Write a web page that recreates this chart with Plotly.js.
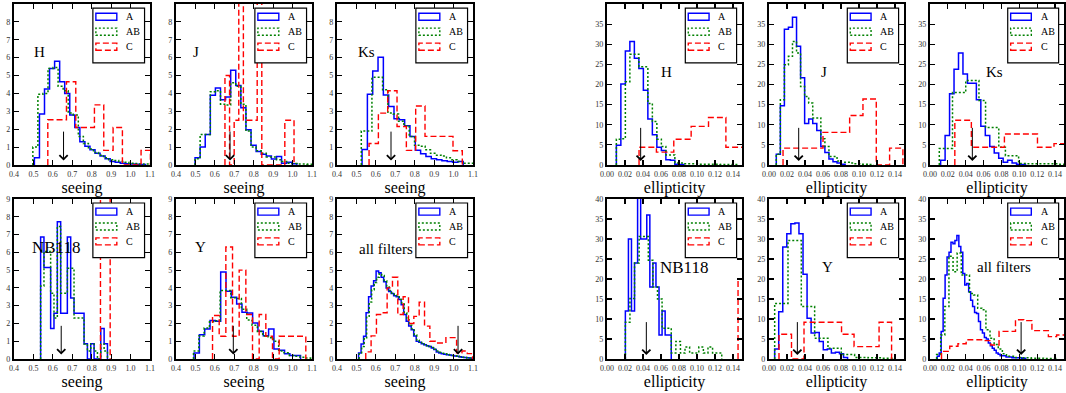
<!DOCTYPE html>
<html><head><meta charset="utf-8">
<script src="https://cdn.plot.ly/plotly-3.0.1.min.js"></script>
<style>html,body{margin:0;padding:0;background:#fff}#chart{width:1066px;height:393px}</style>
</head><body><div id="chart"></div>
<script>
// ---------- categories / labels ----------
const panelNames = ['H', 'J', 'Ks', 'NB118', 'Y', 'all filters'];
const seriesNames = ['A', 'AB', 'C'];
const seeingTicks = [0.4, 0.5, 0.6, 0.7, 0.8, 0.9, 1.0, 1.1];
const ellipTicks = [0.00, 0.02, 0.04, 0.06, 0.08, 0.10, 0.12, 0.14];
const seeingMedians = [0.655, 0.678, 0.678, 0.643, 0.695, 1.023];
const ellipMedians = [0.0374, 0.0330, 0.0474, 0.0437, 0.0315, 0.102];

// ---------- seeing histograms: [bin start, bin width] and heights ----------
const seeH_A_bins = [0.505, 0.026];
const seeH_A = [0.4, 2.85, 4.25, 5.4, 5.8, 4.65, 4.0, 2.8, 2.1, 1.3, 1.05, 0.85, 0.65, 0.5, 0.35, 0.2, 0.15, 0.1, 0.07, 0.05, 0.04, 0.03];
const seeH_AB_bins = [0.497, 0.026];
const seeH_AB = [1.0, 3.95, 4.0, 5.4, 5.45, 4.4, 4.15, 2.9, 2.8, 1.6, 1.2, 0.9, 0.7, 0.55, 0.4, 0.3, 0.25, 0.2, 0.15, 0.1, 0.08, 0.06, 0.05, 0.04];
const seeH_C_bins = [0.574, 0.048];
const seeH_C = [2.53, 2.53, 4.65, 2.1, 2.1, 3.36, 0.82, 2.1, 0, 0, 0.82];

const seeJ_A_bins = [0.498, 0.0262];
const seeJ_A = [0.4, 1.0, 1.7, 3.9, 4.3, 3.65, 3.8, 5.3, 4.45, 3.2, 1.97, 1.1, 0.76, 0.6, 0.5, 0.33, 0.48, 0.1, 0.15, 0.07];
const seeJ_AB_bins = [0.498, 0.0262];
const seeJ_AB = [0.35, 1.7, 1.7, 4.1, 4.15, 3.4, 3.35, 4.6, 4.4, 3.4, 1.9, 1.0, 0.8, 0.65, 0.45, 0.45, 0.3, 0.2, 0.1, 0.08, 0.05, 0.05, 0.04];
const seeJ_C_bins = [0.652, 0.0237];
const seeJ_C = [5.0, 0, 2.5, 12, 2.5, 2.5, 2.5, 12, 0, 0, 0, 0, 0, 2.5, 2.5];

const seeKs_A_bins = [0.529, 0.0274];
const seeKs_A = [0.87, 3.96, 5.26, 6.02, 3.92, 3.27, 2.58, 2.53, 2.2, 1.6, 0.82, 0.63, 0.48, 0.35, 0.3, 0.24, 0.19, 0.15, 0.2];
const seeKs_AB_bins = [0.525, 0.0274];
const seeKs_AB = [1.9, 1.9, 4.9, 4.9, 4.2, 2.9, 2.85, 2.45, 2.2, 1.6, 1.1, 1.05, 0.85, 0.65, 0.55, 0.5, 0.4, 0.3, 0.2, 0.1, 0.1];
const seeKs_C_bins = [0.565, 0.048];
const seeKs_C = [1.2, 2.9, 4.15, 2.15, 0.82, 3.3, 1.6, 1.6, 1.6, 0.8];

const seeNB_A_bins = [0.537, 0.0172];
const seeNB_A = [6.86, 5.15, 5.15, 1.72, 2.57, 7.72, 2.57, 2.57, 6.86, 3.43, 2.57, 2.57, 2.57, 0.86, 0, 0.86, 0, 0, 1.72, 0.86];
const seeNB_AB_bins = [0.537, 0.0172];
const seeNB_AB = [4.1, 6.05, 6.05, 3.7, 2.3, 7.45, 3.7, 3.7, 5.1, 5.1, 2.3, 2.3, 2.3, 0.85, 0.45, 0.85, 0.45, 0, 0.85, 0.45];
const seeNB_C_bins = [0.845, 0.05];
const seeNB_C = [20];

const seeY_A_bins = [0.493, 0.0274];
const seeY_A = [0.34, 1.37, 1.69, 2.16, 2.12, 4.9, 3.81, 3.47, 3.1, 2.63, 2.59, 2.03, 1.56, 1.31, 1.69, 0.56, 0.49, 0.3, 0.2, 0.2];
const seeY_AB_bins = [0.49, 0.0274];
const seeY_AB = [0.45, 1.3, 1.75, 2.1, 2.15, 3.85, 3.85, 3.45, 3.4, 2.8, 2.2, 1.9, 1.55, 1.3, 1.2, 1.0, 0.45, 0.35, 0.2, 0.15, 0.1, 0.05];
const seeY_C_bins = [0.588, 0.0343];
const seeY_C = [2.45, 1.28, 6.3, 1.28, 5.0, 2.5, 0, 2.5, 1.28, 0, 1.28, 1.28, 1.28, 1.28];

const seeAll_A_bins = [0.511, 0.0129];
const seeAll_A = [0.34, 0.84, 1.28, 2.6, 3.5, 4.1, 4.4, 4.95, 4.85, 4.6, 4.35, 4.0, 3.8, 3.68, 3.56, 3.5, 3.35, 3.05, 2.5, 2.12, 1.85, 1.65, 1.3, 1.0, 0.94, 0.86, 0.8, 0.75, 0.7, 0.62, 0.53, 0.4, 0.34, 0.3, 0.27, 0.24, 0.22, 0.19, 0.17, 0.15, 0.12, 0.1, 0.08, 0.07, 0.05];
const seeAll_AB_bins = [0.514, 0.0129];
const seeAll_AB = [0.3, 0.7, 1.2, 2.4, 3.2, 3.9, 4.3, 4.6, 4.8, 4.7, 4.4, 4.1, 3.85, 3.7, 3.6, 3.5, 3.35, 3.1, 2.6, 2.2, 1.9, 1.7, 1.35, 1.05, 0.98, 0.9, 0.82, 0.75, 0.7, 0.65, 0.55, 0.45, 0.38, 0.33, 0.3, 0.26, 0.23, 0.2, 0.18, 0.15, 0.12, 0.1, 0.08, 0.06, 0.05];
const seeAll_C_bins = [0.548, 0.0275];
const seeAll_C = [0.4, 1.3, 2.5, 2.6, 4.0, 4.6, 2.5, 3.5, 2.0, 2.4, 3.2, 1.85, 1.0, 0.9, 0.9, 1.2, 1.2, 0.35, 0.45, 0.3];

// ---------- ellipticity histograms ----------
const ellH_A_bins = [0.0104, 0.005];
const ellH_A = [4.9, 20.1, 28.3, 30.7, 26.5, 24.0, 18.6, 11.4, 7.5, 4.4, 3.6, 1.3, 1.2, 0.2, 0.1];
const ellH_AB_bins = [0.0104, 0.005];
const ellH_AB = [6.4, 6.5, 20.7, 27.5, 27.5, 24.4, 24.4, 15.3, 10.8, 6.4, 4.6, 2.5, 2.5, 0.5, 0.5, 0.3, 0.3, 0.3, 0.2, 0.2, 0.2, 0.2, 0.2, 0.1, 0.1, 0.1, 0.1];
const ellH_C_bins = [0.0356, 0.0193];
const ellH_C = [4.4, 3.2, 6.4, 9.6, 11.8, 4.4];

const ellJ_A_bins = [0.0081, 0.0045];
const ellJ_A = [2.7, 14.7, 33.7, 34.2, 36.7, 29.5, 21.7, 10.3, 11.4, 10.3, 8.6, 4.6, 3.1, 1.5, 0.8, 0.5, 0.2];
const ellJ_AB_bins = [0.0081, 0.0045];
const ellJ_AB = [2.7, 16.2, 24.9, 27.0, 30.7, 27.8, 19.5, 17.0, 15.4, 11.7, 11.7, 6.5, 4.6, 2.1, 2.1, 1.0, 0.7, 0.7, 0.5, 0.3, 0.3, 0.2, 0.2, 0.1];
const ellJ_C_bins = [0.0156, 0.0148];
const ellJ_C = [4.2, 4.2, 4.2, 8.1, 8.1, 12.3, 16.4, 0, 4.2];

const ellKs_A_bins = [0.0119, 0.005];
const ellKs_A = [1.2, 7.3, 17.7, 23.8, 27.8, 22.6, 20.3, 20.3, 16.2, 9.6, 7.3, 4.6, 3.0, 1.7, 0.7, 1.2, 0.5, 0.2, 0.1];
const ellKs_AB_bins = [0.0104, 0.0074];
const ellKs_AB = [4.1, 4.1, 18.0, 18.0, 21.0, 21.0, 16.0, 9.3, 9.3, 4.4, 2.3, 2.3, 0.4, 0.3, 0.3, 0.3, 0.3, 0.3, 0.2];
const ellKs_C_bins = [0.0278, 0.0185];
const ellKs_C = [11.1, 4.4, 4.4, 7.7, 7.7, 4.4, 5.3];

const ellNB_A_bins = [0.0204, 0.0034];
const ellNB_A = [12, 30, 12, 24, 42, 30, 30, 36, 18, 24, 18, 6, 12, 6, 6];
const ellNB_AB_bins = [0.0204, 0.0051];
const ellNB_AB = [9.2, 15.1, 24, 30.6, 30.6, 24.7, 18, 15, 7.7, 7.7, 1.5, 4.4, 1.5, 3.0, 1.5, 1.5, 3.0, 1.5, 3.0, 1.5, 1.5];
const ellNB_C_bins = [0.1456, 0.01];
const ellNB_C = [20];

const ellY_A_bins = [0.0063, 0.0045];
const ellY_A = [2.5, 11.8, 28.0, 31.3, 33.8, 34.0, 31.3, 21.2, 10.2, 6.5, 6.6, 4.4, 2.3, 2.5, 1.5, 1.7, 1.3, 0.4];
const ellY_AB_bins = [0.0063, 0.0148];
const ellY_AB = [13.9, 29.6, 13.1, 5.2, 2.7, 1.1, 0.4, 0.3, 0.2];
const ellY_C_bins = [0.0111, 0.0139];
const ellY_C = [6.2, 0, 9.2, 9.2, 9.2, 6.2, 3.1, 3.1, 9.2];

const ellAll_A_bins = [0.0081, 0.0022];
const ellAll_A = [0.7, 1.5, 6.9, 15.2, 21, 25.5, 26.7, 29.2, 28.8, 29.6, 30.9, 28.1, 26.7, 21.4, 18.5, 18.9, 16.8, 14.7, 13.1, 11.6, 11.4, 9.4, 7.3, 6.5, 5.4, 5.0, 4.0, 3.3, 2.7, 2.2, 1.5, 1.2, 0.8, 0.8, 0.8, 0.5, 0.5, 0.5, 0.3, 0.3, 0.3, 0.3, 0.3, 0.2, 0.2];
const ellAll_AB_bins = [0.0074, 0.0046];
const ellAll_AB = [1.1, 6.0, 13.1, 25.7, 21.8, 26.5, 21.0, 21.0, 16.4, 16.0, 12.7, 12.3, 7.3, 5.2, 3.6, 2.5, 1.3, 0.7, 0.7, 0.4, 0.4, 0.3, 0.3, 0.2, 0.2, 0.2, 0.1, 0.1, 0.1];
const ellAll_C_bins = [0.0129, 0.0092];
const ellAll_C = [1.9, 3.2, 3.8, 4.8, 4.8, 4.6, 3.5, 6.9, 6.9, 9.8, 9.6, 7.1, 7.1, 5.6, 6.0];

// ---------- assemble ----------
const seeingSets = [
  [[seeH_A_bins, seeH_A], [seeH_AB_bins, seeH_AB], [seeH_C_bins, seeH_C]],
  [[seeJ_A_bins, seeJ_A], [seeJ_AB_bins, seeJ_AB], [seeJ_C_bins, seeJ_C]],
  [[seeKs_A_bins, seeKs_A], [seeKs_AB_bins, seeKs_AB], [seeKs_C_bins, seeKs_C]],
  [[seeNB_A_bins, seeNB_A], [seeNB_AB_bins, seeNB_AB], [seeNB_C_bins, seeNB_C]],
  [[seeY_A_bins, seeY_A], [seeY_AB_bins, seeY_AB], [seeY_C_bins, seeY_C]],
  [[seeAll_A_bins, seeAll_A], [seeAll_AB_bins, seeAll_AB], [seeAll_C_bins, seeAll_C]]
];
const ellipSets = [
  [[ellH_A_bins, ellH_A], [ellH_AB_bins, ellH_AB], [ellH_C_bins, ellH_C]],
  [[ellJ_A_bins, ellJ_A], [ellJ_AB_bins, ellJ_AB], [ellJ_C_bins, ellJ_C]],
  [[ellKs_A_bins, ellKs_A], [ellKs_AB_bins, ellKs_AB], [ellKs_C_bins, ellKs_C]],
  [[ellNB_A_bins, ellNB_A], [ellNB_AB_bins, ellNB_AB], [ellNB_C_bins, ellNB_C]],
  [[ellY_A_bins, ellY_A], [ellY_AB_bins, ellY_AB], [ellY_C_bins, ellY_C]],
  [[ellAll_A_bins, ellAll_A], [ellAll_AB_bins, ellAll_AB], [ellAll_C_bins, ellAll_C]]
];

function stepXY(bins, vals) {
  const s = bins[0], w = bins[1];
  const x = [s], y = [0];
  for (let i = 0; i < vals.length; i++) { x.push(s + i * w); y.push(vals[i]); }
  x.push(s + vals.length * w); y.push(0);
  return {x, y};
}

const W = 1066, Hpx = 393;
const colX = [[14,150],[176,312],[337,473],[607,742],[769,904],[930,1064]];
const rowY = [[4,165],[199,359]];
const styles = [
  {color:'#0000ff', width:1.5, dash:'solid'},
  {color:'#008000', width:1.5, dash:'2px,2px'},
  {color:'#ff0000', width:1.4, dash:'6px,3px'}
];
const serif = "'Liberation Serif', 'Times New Roman', serif";
// label placement inside each panel (axis-domain fractions)
const seeLabelPos = [[0.19,0.70],[0.15,0.70],[0.22,0.70],[0.31,0.70],[0.18,0.70],[0.36,0.69]];
const ellLabelPos = [[0.44,0.58],[0.41,0.58],[0.48,0.58],[0.575,0.575],[0.437,0.575],[0.555,0.575]];

const traces = [];
const layout = {
  width: W, height: Hpx, margin:{l:0,r:0,t:0,b:0},
  paper_bgcolor:'#fff', plot_bgcolor:'#fff', showlegend:false,
  shapes: [], annotations: []
};

for (let p = 0; p < 12; p++) {
  const isSee = p < 6;
  const k = p % 6;
  const col = isSee ? (k % 3) : 3 + (k % 3);
  const row = Math.floor(k / 3);
  const n = p + 1;
  const xa = n === 1 ? 'x' : 'x' + n;
  const ya = n === 1 ? 'y' : 'y' + n;
  const xk = n === 1 ? 'xaxis' : 'xaxis' + n;
  const yk = n === 1 ? 'yaxis' : 'yaxis' + n;
  const sets = isSee ? seeingSets[k] : ellipSets[k];
  sets.forEach((s, j) => {
    const xy = stepXY(s[0], s[1]);
    traces.push({type:'scatter', mode:'lines', x:xy.x, y:xy.y, xaxis:xa, yaxis:ya,
      name:seriesNames[j], line:Object.assign({shape:'hv'}, styles[j]), hoverinfo:'skip'});
  });
  const common = {showline:true, linewidth:2.2, linecolor:'#000', mirror:'allticks', ticks:'inside',
    ticklen:5, tickwidth:1.2, tickcolor:'#000', showgrid:false, zeroline:false, fixedrange:true,
    tickfont:{family:serif, size:8, color:'#333'}};
  layout[xk] = Object.assign({}, common, {
    domain:[colX[col][0]/W, colX[col][1]/W], anchor:ya,
    range: isSee ? [0.4, 1.1] : [0, 0.15],
    tickvals: isSee ? seeingTicks : ellipTicks,
    tickformat: isSee ? '.1f' : '.2f',
    title:{text: isSee ? 'seeing' : 'ellipticity', font:{family:serif, size:16, color:'#000'}, standoff:2}
  });
  layout[yk] = Object.assign({}, common, {
    domain:[1 - rowY[row][1]/Hpx, 1 - rowY[row][0]/Hpx], anchor:xa,
    range: isSee ? [0, 9] : [0, 40], dtick: isSee ? 1 : 5, tick0:0
  });
  // median arrow
  const med = isSee ? seeingMedians[k] : ellipMedians[k];
  layout.annotations.push({x:med, y: isSee ? 0.25 : 1.0, ax:med, ay: isSee ? 1.95 : 9.6,
    xref:xa, yref:ya, axref:xa, ayref:ya, showarrow:true, arrowhead:4, arrowsize:1.6,
    arrowwidth:1, arrowcolor:'#000', text:''});
  // panel label
  const lp = isSee ? seeLabelPos[k] : ellLabelPos[k];
  layout.annotations.push({x:lp[0], y:lp[1], xref:xa + ' domain', yref:ya + ' domain',
    text:panelNames[k], showarrow:false, xanchor:'center', yanchor:'middle',
    font:{family:serif, size: k === 3 ? 17 : 15, color:'#000'}});
  // legend box
  const xr = xa + ' domain', yr = ya + ' domain';
  layout.shapes.push({type:'rect', xref:xr, yref:yr, x0:0.58, x1:0.96, y0:0.634, y1:0.975,
    line:{color:'#000', width:1.2}, fillcolor:'#fff', layer:'above'});
  const rowsY = [0.921, 0.828, 0.735];
  for (let j = 0; j < 3; j++) {
    layout.shapes.push({type:'rect', xref:xr, yref:yr, x0:0.602, x1:0.756,
      y0:rowsY[j] - 0.022, y1:rowsY[j] + 0.022,
      line:{color:styles[j].color, width:1.4, dash:styles[j].dash}, fillcolor:'rgba(0,0,0,0)', layer:'above'});
    layout.annotations.push({x:0.81, y:rowsY[j], xref:xr, yref:yr, text:seriesNames[j],
      showarrow:false, xanchor:'left', yanchor:'middle', font:{family:serif, size:10, color:'#000'}});
  }
}

Plotly.newPlot('chart', traces, layout, {displayModeBar:false, staticPlot:true});
</script></body></html>
